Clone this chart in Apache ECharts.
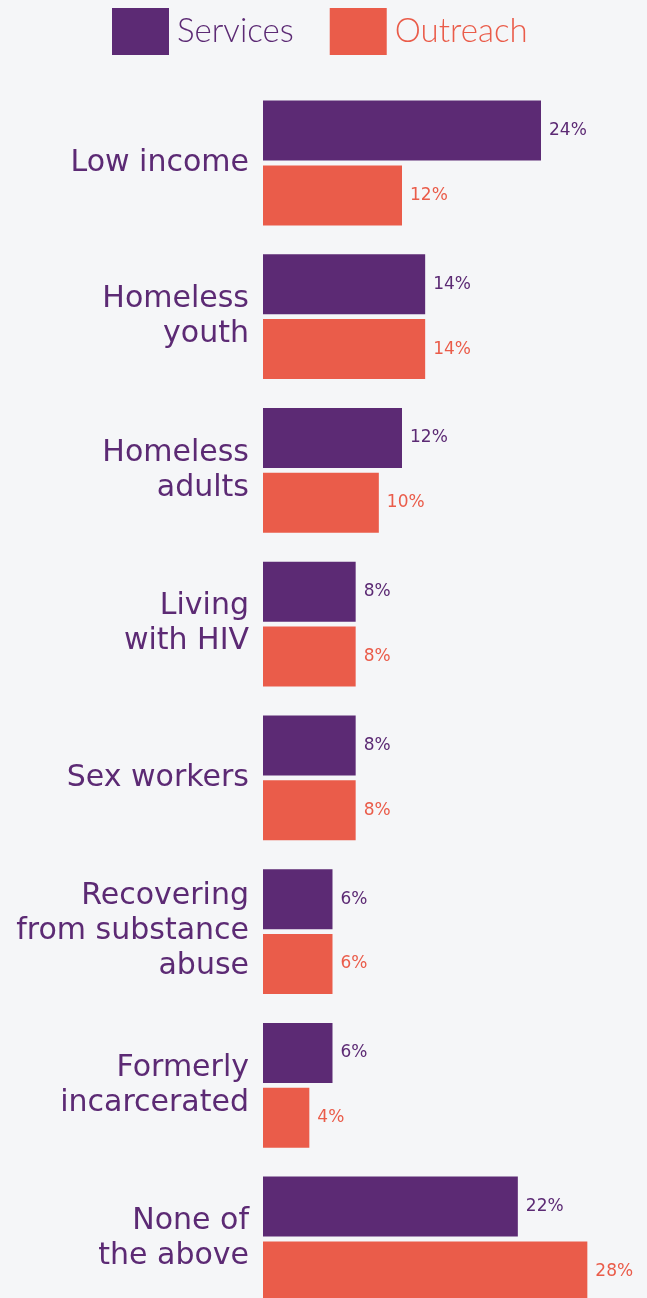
<!DOCTYPE html>
<html>
<head>
<meta charset="utf-8">
<script src="https://cdn.jsdelivr.net/npm/echarts@6/dist/echarts.min.js"></script>
<style>
  html, body { margin: 0; padding: 0; background: #f5f6f8; }
  #chart { width: 647px; height: 1298px; }
</style>
</head>
<body>
<div id="chart"></div>
<script>
const categories = [
  'Low income',
  'Homeless\nyouth',
  'Homeless\nadults',
  'Living\nwith HIV',
  'Sex workers',
  'Recovering\nfrom substance\nabuse',
  'Formerly\nincarcerated',
  'None of\nthe above'
];
const services = [24, 14, 12, 8, 8, 6, 6, 22];
const outreach = [12, 14, 10, 8, 8, 6, 4, 28];

const PURPLE = '#5c2a74';
const ORANGE = '#ea5c4a';
const FONT = 'DejaVu Sans';

const chart = echarts.init(document.getElementById('chart'), null, { renderer: 'canvas' });

function valueLabel(color) {
  return {
    show: true,
    position: 'right',
    distance: 8,
    formatter: p => p.value + '%',
    color: color,
    fontFamily: FONT,
    fontSize: 17
  };
}

chart.setOption({
  backgroundColor: '#f5f6f8',
  animation: false,
  legend: {
    left: 112,
    top: 8,
    padding: 0,
    itemWidth: 57,
    itemHeight: 47,
    itemGap: 36,
    icon: 'rect',
    textStyle: { fontFamily: 'Lato', fontWeight: 300, fontSize: 33, padding: [0, 0, 0, 3] },
    data: [
      { name: 'Services', textStyle: { color: PURPLE } },
      { name: 'Outreach', textStyle: { color: ORANGE } }
    ]
  },
  grid: { left: 263, top: 163, width: 347.5, height: 1076, containLabel: false },
  xAxis: {
    type: 'value',
    min: 0,
    max: 30,
    show: false
  },
  yAxis: {
    type: 'category',
    inverse: true,
    boundaryGap: false,
    data: categories,
    axisLine: { show: false },
    axisTick: { show: false },
    axisLabel: {
      margin: 14,
      color: PURPLE,
      fontFamily: FONT,
      fontSize: 30,
      lineHeight: 35,
      align: 'right'
    }
  },
  series: [
    {
      name: 'Services',
      type: 'bar',
      data: services,
      barWidth: 60,
      barGap: '8%',
      itemStyle: { color: PURPLE },
      label: valueLabel(PURPLE)
    },
    {
      name: 'Outreach',
      type: 'bar',
      data: outreach,
      barWidth: 60,
      itemStyle: { color: ORANGE },
      label: valueLabel(ORANGE)
    }
  ]
});
</script>
</body>
</html>
